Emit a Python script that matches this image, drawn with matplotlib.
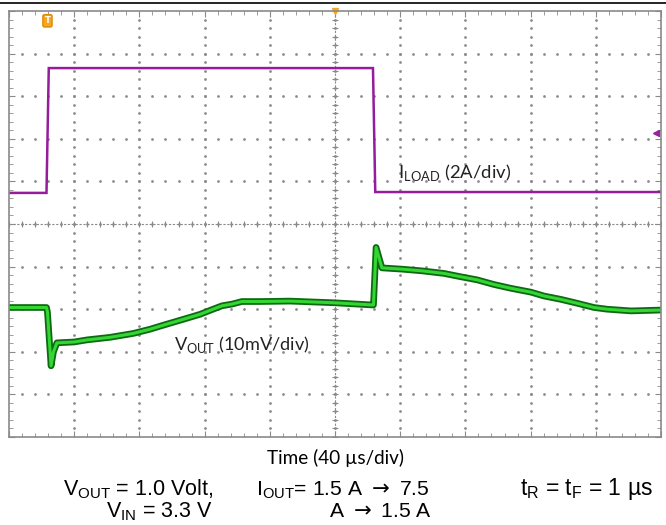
import numpy as np
import matplotlib
matplotlib.use("Agg")
import matplotlib.pyplot as plt
import matplotlib.patheffects as pe
from matplotlib.lines import Line2D

plt.rcParams['mathtext.fontset'] = 'custom'
plt.rcParams['mathtext.rm'] = 'Lato'
plt.rcParams['mathtext.sf'] = 'Liberation Sans'
plt.rcParams['mathtext.tt'] = 'DejaVu Sans'

# scope readings: time in us (40 us/div), traces in screen divisions
iload_t = [0, 23.0, 24.4, 223.3, 224.7, 400]
iload_div = [0.73, 0.73, 3.66, 3.66, 0.75, 0.75]

vout_t = [0, 23.0, 23.6, 25.8, 27.3, 29.4, 39.9, 47.9, 62.0, 76.1, 86.5, 96.9,
          106.7, 117.2, 125.2, 130.7, 136.8, 142.9, 154.0, 172.4, 200, 222.7,
          223.6, 225.2, 228.8, 241.1, 253.4, 266.9, 277.3, 287.1, 297.5, 308.0,
          320.2, 328.2, 338.7, 348.5, 358.9, 366.9, 381.6, 400]
vout_div = [-1.96, -1.96, -2.07, -3.33, -3.00, -2.79, -2.77, -2.72, -2.66, -2.57,
            -2.47, -2.35, -2.24, -2.12, -2.00, -1.92, -1.88, -1.82, -1.82, -1.81,
            -1.85, -1.90, -1.90, -0.55, -1.03, -1.06, -1.10, -1.16, -1.24, -1.31,
            -1.42, -1.51, -1.60, -1.69, -1.77, -1.86, -1.96, -2.00, -2.04, -2.02]

W, H = 666, 525
fig = plt.figure(figsize=(W / 100, H / 100), dpi=100)
ax = fig.add_axes([9 / W, 1 - 437 / H, 652 / W, 426 / H])
ax.set_xlim(0, 400)
ax.set_ylim(-5, 5)

grid_c = '#8a8a8a'
for s in ax.spines.values():
    s.set_color(grid_c)
    s.set_linewidth(1.2)

ax.set_xticks(np.arange(0, 401, 40))
ax.set_yticks(np.arange(-5, 5.1, 1))
ax.set_xticks(np.arange(0, 401, 8), minor=True)
ax.set_yticks(np.arange(-5, 5.01, 0.2), minor=True)
ax.tick_params(which='both', direction='in', top=True, right=True,
               labelbottom=False, labelleft=False, color=grid_c)
ax.tick_params(which='major', length=4)
ax.tick_params(which='minor', length=3)

# dotted graticule
dot = dict(ls='none', marker='o', ms=2.0, color='#8c8c8c', mew=0, zorder=1)
gx, gy = np.meshgrid(np.arange(40, 400, 40), np.arange(-4.8, 5, 0.2))
ax.plot(gx.ravel(), gy.ravel(), **dot)
gx, gy = np.meshgrid(np.arange(8, 400, 8), np.arange(-4, 5, 1))
ax.plot(gx.ravel(), gy.ravel(), **dot)

# centre axes with ticks
ax.axhline(0, color=grid_c, lw=0.8, ls=(0, (2, 1.5)))
ax.axvline(200, color=grid_c, lw=0.8, ls=(0, (2, 1.5)))
ax.plot(np.arange(0, 401, 8), np.zeros(51), ls='none', marker='|', ms=5, color=grid_c, mew=0.8)
ax.plot(np.full(51, 200), np.arange(-5, 5.01, 0.2), ls='none', marker='_', ms=5, color=grid_c, mew=0.8)

# traces
ax.plot(iload_t, iload_div, color='#951c9c', lw=1.8, solid_joinstyle='miter')
ax.plot(vout_t, vout_div, color='#33d633', lw=2.2, solid_joinstyle='round',
        path_effects=[pe.Stroke(linewidth=4.8, foreground='#0e6a12'), pe.Normal()])

# markers
ax.text(23.6, 4.77, 'T', color='white', fontsize=6, fontweight='bold', ha='center', va='center',
        bbox=dict(boxstyle='round,pad=0.2', fc='#f5a623', ec='#e08a00'))
ax.plot([200], [5], marker='v', color='#f5a623', ms=5, clip_on=False)
ax.plot([397], [2.14], marker='<', color='#9b1fa0', ms=4, clip_on=False)

ax.text(238.7, 1.08, r'I$_{\mathrm{LOAD}}$ (2A/div)', fontsize=13.3, family='Lato', color='#222222')
ax.text(101.2, -2.96, r'V$_{\mathrm{OUT}}$ (10mV/div)', fontsize=13.1, family='Lato', color='#222222')

fig.add_artist(Line2D([0, 1], [1 - 2.7 / H, 1 - 2.7 / H], color='black', lw=1.2))

def fx(x):
    return x / W

def fy(y):
    return 1 - y / H

fig.text(fx(335.5), fy(464), 'Time (40 µs/div)', fontsize=13.6, family='Lato', ha='center', va='baseline')

sans = ['Liberation Sans', 'DejaVu Sans']
fs = 15.5
fig.text(fx(213), fy(495), r'V$_{\mathsf{OUT}}$ = 1.0 Volt,', fontsize=fs, family=sans, ha='right', va='baseline')
fig.text(fx(213), fy(517), r'V$_{\mathsf{IN}}$ = 3.3 V', fontsize=fs, family=sans, ha='right', va='baseline')
fig.text(fx(430), fy(495), r'I$_{\mathsf{OUT}}$= 1.5 A $\mathtt{\rightarrow}$ 7.5', fontsize=15.2, family=sans, ha='right', va='baseline')
fig.text(fx(432), fy(517), r'A $\mathtt{\rightarrow}$ 1.5 A', fontsize=15.2, family=sans, ha='right', va='baseline')
fig.text(fx(520), fy(495), r't$_{\mathsf{R}}$ = t$_{\mathsf{F}}$ = 1 µs', fontsize=16.5, family=sans, ha='left', va='baseline')

fig.savefig('out.png', dpi=100)
